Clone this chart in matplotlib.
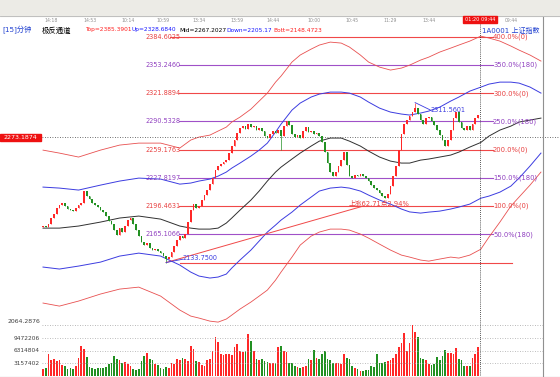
import matplotlib
matplotlib.use("Agg")
import matplotlib.pyplot as plt
from matplotlib.lines import Line2D
from matplotlib.patches import Rectangle
from matplotlib.transforms import blended_transform_factory

plt.rcParams['font.family'] = ['DejaVu Sans', 'Noto Sans CJK SC']

# 15 minute bars, closes (open = previous close)
first_open = 2173.0
closes = [
    2174.3, 2173.1, 2176.5, 2183.2, 2187.6, 2194.3, 2197.6, 2199.8, 2196.5, 2193.2,
    2192.0, 2190.9, 2194.3, 2197.6, 2199.8, 2213.2, 2207.6, 2204.3, 2199.8, 2197.6,
    2195.4, 2192.0, 2189.8, 2185.4, 2179.8, 2176.5, 2169.8, 2164.3, 2172.0, 2167.6,
    2174.3, 2180.9, 2183.2, 2176.5, 2169.8, 2163.1, 2156.5, 2153.1, 2155.4, 2149.8,
    2147.6, 2148.7, 2146.5, 2144.2, 2140.9, 2137.5, 2139.8, 2145.4, 2152.0, 2158.7,
    2163.1, 2160.9, 2165.4, 2178.7, 2192.0, 2198.7, 2194.3, 2196.5, 2203.2, 2208.7,
    2214.3, 2220.9, 2227.6, 2236.5, 2241.0, 2243.2, 2245.4, 2247.6, 2255.4, 2263.2,
    2269.9, 2277.6, 2283.2, 2285.4, 2282.1, 2287.6, 2284.3, 2285.4, 2281.0, 2283.2,
    2279.9, 2274.3, 2272.1, 2276.5, 2279.9, 2277.6, 2281.0, 2274.3, 2285.4, 2291.0,
    2286.5, 2276.5, 2273.2, 2275.4, 2272.1, 2279.9, 2284.3, 2278.8, 2279.9, 2276.5,
    2277.6, 2274.3, 2267.6, 2256.5, 2244.3, 2234.3, 2229.8, 2234.3, 2241.0, 2247.6,
    2256.5, 2242.1, 2229.8, 2227.6, 2231.0, 2229.8, 2232.1, 2229.8, 2227.6, 2224.3,
    2219.8, 2216.5, 2214.3, 2210.9, 2207.6, 2205.4, 2209.8, 2218.7, 2229.8, 2241.0,
    2258.7, 2276.5, 2287.6, 2292.1, 2296.5, 2301.0, 2306.0, 2298.8, 2292.1, 2287.6,
    2294.3, 2295.4, 2291.0, 2286.5, 2281.0, 2275.4, 2269.9, 2263.2, 2269.9, 2281.0,
    2294.3, 2301.0, 2289.9, 2283.2, 2281.0, 2285.4, 2281.0, 2287.6, 2294.3, 2297.7,
]
wick_high = {136: 2311.5601}
wick_low = {45: 2133.75, 87: 2258.7}

# volume in millions
vol_m = [
    1.8, 2.0, 5.5, 4.0, 4.2, 3.8, 4.0, 2.8, 2.6, 1.8,
    2.0, 1.7, 2.5, 4.6, 7.6, 6.7, 4.8, 2.2, 2.0, 1.8,
    2.0, 2.1, 1.9, 2.2, 3.0, 3.2, 5.0, 4.4, 4.0, 3.3,
    3.6, 3.0, 2.5, 1.8, 1.6, 1.7, 3.8, 5.0, 5.9, 4.2,
    4.0, 3.0, 2.9, 2.0, 1.8, 2.2, 1.9, 3.4, 3.0, 4.2,
    4.0, 4.6, 4.4, 3.8, 7.6, 6.7, 3.8, 3.6, 2.8, 2.6,
    4.0, 4.2, 6.3, 9.8, 8.5, 5.6, 5.4, 5.6, 5.5, 5.2,
    7.2, 8.0, 6.3, 6.0, 6.4, 10.7, 8.8, 6.3, 4.2, 4.0,
    4.3, 3.8, 3.6, 3.4, 3.3, 3.2, 7.2, 7.6, 6.3, 6.0,
    3.4, 3.2, 2.4, 2.2, 2.0, 2.3, 2.5, 4.2, 4.0, 6.5,
    4.6, 4.4, 5.6, 6.3, 4.2, 4.0, 3.4, 3.2, 3.4, 3.0,
    5.6, 4.6, 4.4, 2.4, 2.0, 1.8, 1.3, 1.2, 1.5, 1.4,
    2.5, 2.2, 5.6, 3.4, 3.2, 3.6, 3.8, 4.0, 4.6, 5.5,
    7.2, 8.4, 10.8, 6.3, 8.4, 12.9, 11.0, 9.8, 4.6, 4.2,
    4.0, 3.0, 2.8, 3.0, 4.8, 4.0, 5.0, 6.5, 5.9, 5.9,
    5.6, 7.0, 4.2, 4.0, 2.5, 2.4, 2.6, 4.6, 5.5, 7.3,
]

# channel curves sampled at bar positions
band_idx = [0, 6, 13, 21, 28, 35, 43, 50, 54, 57,
            61, 64, 67, 69, 72, 76, 79, 82, 85, 87,
            91, 94, 98, 101, 105, 109, 112, 116, 119, 123,
            127, 131, 134, 138, 141, 145, 149, 152, 156, 160,
            163, 167, 171, 174, 178, 182]
band_top = [2258.7, 2255.4, 2251.0, 2258.7, 2264.3, 2266.5, 2266.5, 2261.0, 2269.9, 2273.2,
            2275.4, 2279.9, 2284.3, 2289.9, 2295.4, 2304.3, 2313.2, 2322.1, 2334.3, 2341.0,
            2356.6, 2364.4, 2371.0, 2375.5, 2378.8, 2377.7, 2373.3, 2364.4, 2356.6, 2351.0,
            2347.7, 2349.9, 2353.2, 2358.8, 2362.1, 2367.7, 2372.1, 2375.5, 2379.9, 2385.4,
            2383.3, 2379.9, 2374.4, 2369.9, 2364.4, 2357.7]
band_up = [2217.6, 2216.5, 2214.3, 2219.8, 2224.3, 2227.6, 2226.5, 2220.9, 2222.1, 2224.3,
           2226.5, 2229.8, 2234.3, 2238.7, 2244.3, 2252.1, 2258.7, 2266.5, 2278.8, 2287.6,
           2303.2, 2311.0, 2317.7, 2321.0, 2323.2, 2323.2, 2322.1, 2317.7, 2312.1, 2305.4,
           2301.0, 2298.8, 2297.7, 2299.9, 2302.1, 2306.5, 2313.2, 2317.7, 2324.3, 2328.7,
           2332.1, 2334.3, 2334.3, 2333.2, 2328.8, 2322.1]
band_mid = [2172.0, 2172.0, 2174.3, 2178.7, 2183.2, 2185.4, 2182.0, 2174.3, 2172.0, 2170.9,
            2170.9, 2172.0, 2177.6, 2183.2, 2192.0, 2203.2, 2213.2, 2224.3, 2234.3, 2239.8,
            2248.8, 2255.4, 2263.2, 2268.7, 2272.1, 2272.1, 2268.7, 2263.2, 2257.6, 2251.0,
            2246.5, 2244.3, 2244.3, 2247.6, 2248.8, 2251.0, 2253.2, 2256.5, 2262.1, 2267.2,
            2274.3, 2281.0, 2285.4, 2289.9, 2292.1, 2294.3]
band_down = [2128.7, 2126.5, 2129.8, 2134.2, 2140.9, 2144.2, 2140.9, 2130.9, 2123.1, 2118.7,
             2116.5, 2117.6, 2120.9, 2127.6, 2136.5, 2147.6, 2157.6, 2167.6, 2175.4, 2180.9,
             2189.8, 2197.6, 2206.5, 2213.2, 2216.5, 2217.6, 2216.5, 2213.2, 2208.7, 2203.2,
             2198.7, 2193.2, 2190.0, 2188.7, 2189.8, 2190.9, 2193.2, 2195.4, 2198.7, 2205.2,
             2207.6, 2212.0, 2218.7, 2227.6, 2241.0, 2255.4]
band_bot = [2088.7, 2085.3, 2090.9, 2098.7, 2104.2, 2106.4, 2096.4, 2080.9, 2074.2, 2072.0,
            2068.6, 2067.5, 2070.9, 2075.3, 2082.0, 2089.8, 2096.4, 2103.1, 2114.2, 2123.1,
            2139.8, 2153.1, 2163.1, 2167.6, 2170.9, 2170.9, 2169.8, 2165.4, 2160.9, 2154.2,
            2147.6, 2142.0, 2139.8, 2136.5, 2135.3, 2137.6, 2139.8, 2138.7, 2142.0, 2148.5,
            2162.0, 2178.7, 2196.5, 2206.5, 2219.8, 2234.3]

levels = [2384.6025, 2353.2460, 2321.8894, 2290.5328, 2259.1763,
          2227.8197, 2196.4631, 2165.1066, 2133.7500]
level_pct = ['400.0%(0)', '350.0%(180)', '300.0%(0)', '250.0%(180)', '200.0%(0)',
             '150.0%(180)', '100.0%(0)', '50.0%(180)', '']

vol_ticks = [3157402, 6314804, 9472206]
time_labels = ['14:18', '14:53', '10:14', '10:59', '13:34', '13:59', '14:44',
               '10:00', '10:45', '11:29', '13:44', '09:44']
time_idx = [3, 17, 31, 44, 57, 71, 84, 99, 113, 127, 141, 171]

cursor_price = 2273.1874
rise_end_idx = 117

RED = '#f04848'
PURPLE = '#a050c8'
BLUE = '#3c3ce0'
UP = '#ff2828'
DOWN = '#229022'

W, H = 560, 377
fig = plt.figure(figsize=(W / 100, H / 100), dpi=100)
STEP, X0 = 2.736, 43


def px2i(px):
    return (px - X0) / STEP


def ftext(x, y, s, **kw):
    kw.setdefault('va', 'center')
    return fig.text(x / W, 1 - y / H, s, **kw)


ax = fig.add_axes([42 / W, 1 - 325 / H, (543 - 42) / W, (325 - 20) / H])
ax.set_xlim(px2i(42), px2i(543))
ax.set_ylim(2064.2876, 2403.36)
ax.axis('off')

vax = fig.add_axes([42 / W, 1 - 376 / H, (543 - 42) / W, (376 - 325) / H])
vax.set_xlim(px2i(42), px2i(543))
vax.set_ylim(0, 12.88e6)
vax.axis('off')

# toolbar strip
fig.add_artist(Rectangle((0, 1 - 16 / H), 1, 16 / H, transform=fig.transFigure,
                         color='#ecebe6', zorder=0))
fig.add_artist(Line2D([0, 1], [1 - 16 / H] * 2, transform=fig.transFigure,
                      color='#b8b8b8', lw=0.6))

# levels
tr_y = blended_transform_factory(fig.transFigure, ax.transData)
for k, (lv, pct) in enumerate(zip(levels, level_pct)):
    col = RED if k % 2 == 0 else PURPLE
    tcol = '#e84040' if k % 2 == 0 else '#9040c0'
    if pct:
        x_start = 170 if k == 0 else 179
        ax.plot([px2i(x_start), px2i(493)], [lv, lv], color=col, lw=0.8)
        ax.text(145 / W, lv, f'{lv:.4f}', transform=tr_y, color=tcol, fontsize=4.7,
                va='center', ha='left')
        ax.text(493 / W, lv, pct, transform=tr_y, color=tcol, fontsize=4.9,
                va='center', ha='left')
    else:
        ax.plot([px2i(180), px2i(512)], [lv, lv], color=col, lw=0.8)

# channel
ax.plot(band_idx, band_top, color='#e85050', lw=0.6)
ax.plot(band_idx, band_up, color=BLUE, lw=0.7)
ax.plot(band_idx, band_mid, color='#303030', lw=0.7)
ax.plot(band_idx, band_down, color=BLUE, lw=0.7)
ax.plot(band_idx, band_bot, color='#e85050', lw=0.6)

# candles
opens = [first_open] + closes[:-1]
colors = []
for i, (o, c) in enumerate(zip(opens, closes)):
    col = UP if c >= o else DOWN
    colors.append(col)
    hi = wick_high.get(i, max(o, c))
    lo = wick_low.get(i, min(o, c))
    ax.vlines(i, lo, hi, color=col, lw=0.5, zorder=3)
    ax.bar(i, max(abs(c - o), 1.2), bottom=min(o, c), width=0.62, color=col,
           lw=0, zorder=3)

# rise line and marks
ax.plot([45, rise_end_idx], [wick_low[45], levels[6]], color=RED, lw=0.7, zorder=4)
ax.text(px2i(349), 2199.5, '上涨62.71点2.94%', color='#e84040', fontsize=4.9,
        va='center', ha='left', zorder=5)
ax.plot([136, px2i(430)], [wick_high[136], 2303.5], color=BLUE, lw=0.6, zorder=4)
ax.text(px2i(430), 2303.5, '2311.5601', color=BLUE, fontsize=4.7, va='center',
        ha='left', zorder=5)
ax.plot([45, px2i(183)], [wick_low[45], 2137.5], color=BLUE, lw=0.6, zorder=4)
ax.text(px2i(182), 2138.5, '2133.7500', color=BLUE, fontsize=4.7, va='center',
        ha='left', zorder=5)

# cursor lines
ax.add_artist(Line2D([42 / W, 1], [cursor_price] * 2, transform=tr_y, color='#404040',
                     lw=0.6, ls=(0, (1, 2)), clip_on=False))
fig.add_artist(Line2D([480 / W] * 2, [1 - 22 / H, 1 - 376 / H], transform=fig.transFigure,
                      color='#202020', lw=0.6, ls=(0, (1, 1.5))))
fig.add_artist(Rectangle((0, 1 - 141 / H), 41 / W, 7 / H, transform=fig.transFigure,
                         color='#ee1111', zorder=5))
ftext(20.5, 137.5, f'{cursor_price:.4f}', color='white', fontsize=4.5, ha='center',
      zorder=6)

# bottom of price panel
ax.add_artist(Line2D([42 / W, 543 / W], [2064.2876] * 2, transform=tr_y, color='#a0a0a0',
                     lw=0.6, ls=(0, (1, 2)), clip_on=False))
ftext(40, 321.5, '2064.2876', color='#404040', fontsize=4.4, ha='right')

# volume
vax.bar(range(len(vol_m)), [v * 1e6 for v in vol_m], width=0.62, color=colors, lw=0)
tr_v = blended_transform_factory(fig.transFigure, vax.transData)
for t in vol_ticks:
    vax.add_artist(Line2D([42 / W, 543 / W], [t, t], transform=tr_v, color='#a8a8a8',
                          lw=0.6, ls=(0, (1, 2)), clip_on=False))
    vax.text(40 / W, t, str(t), transform=tr_v, color='#404040', fontsize=4.2,
             ha='right', va='center')

# frame
fig.add_artist(Line2D([543 / W] * 2, [1 - 17 / H, 0], transform=fig.transFigure,
                      color='#909090', lw=0.8))
fig.add_artist(Line2D([0, 1], [1 - 376.5 / H] * 2, transform=fig.transFigure,
                      color='#909090', lw=0.8))

# time ruler
tr_x = blended_transform_factory(ax.transData, fig.transFigure)
for lab, i in zip(time_labels, time_idx):
    ax.text(i, 1 - 20.5 / H, lab, transform=tr_x, color='#909090', fontsize=3.3,
            ha='center', va='center', clip_on=False)
fig.add_artist(Rectangle((463 / W, 1 - 23 / H), 34 / W, 7 / H, transform=fig.transFigure,
                         color='#ee1111', zorder=5))
ftext(480, 19.5, '01:20 09:44', color='white', fontsize=3.6, ha='center', zorder=6)

# title row
ftext(2, 29.5, '[15]分钟', color='#2040d0', fontsize=5.2)
ftext(42, 30, '极反通道', color='black', fontsize=5.3)
ftext(85, 30, 'Top=2385.3901', color='#ff2020', fontsize=4.2)
ftext(131, 30, 'Up=2328.6840', color='#1818ff', fontsize=4.2)
ftext(179, 30, 'Mid=2267.2027', color='black', fontsize=4.2)
ftext(226, 30, 'Down=2205.17', color='#1818ff', fontsize=4.2)
ftext(273, 30, 'Bott=2148.4723', color='#ff2020', fontsize=4.2)
ftext(482, 30, '1A0001 上证指数', color='#2040d0', fontsize=5.0)

fig.savefig('out.png', dpi=100)
